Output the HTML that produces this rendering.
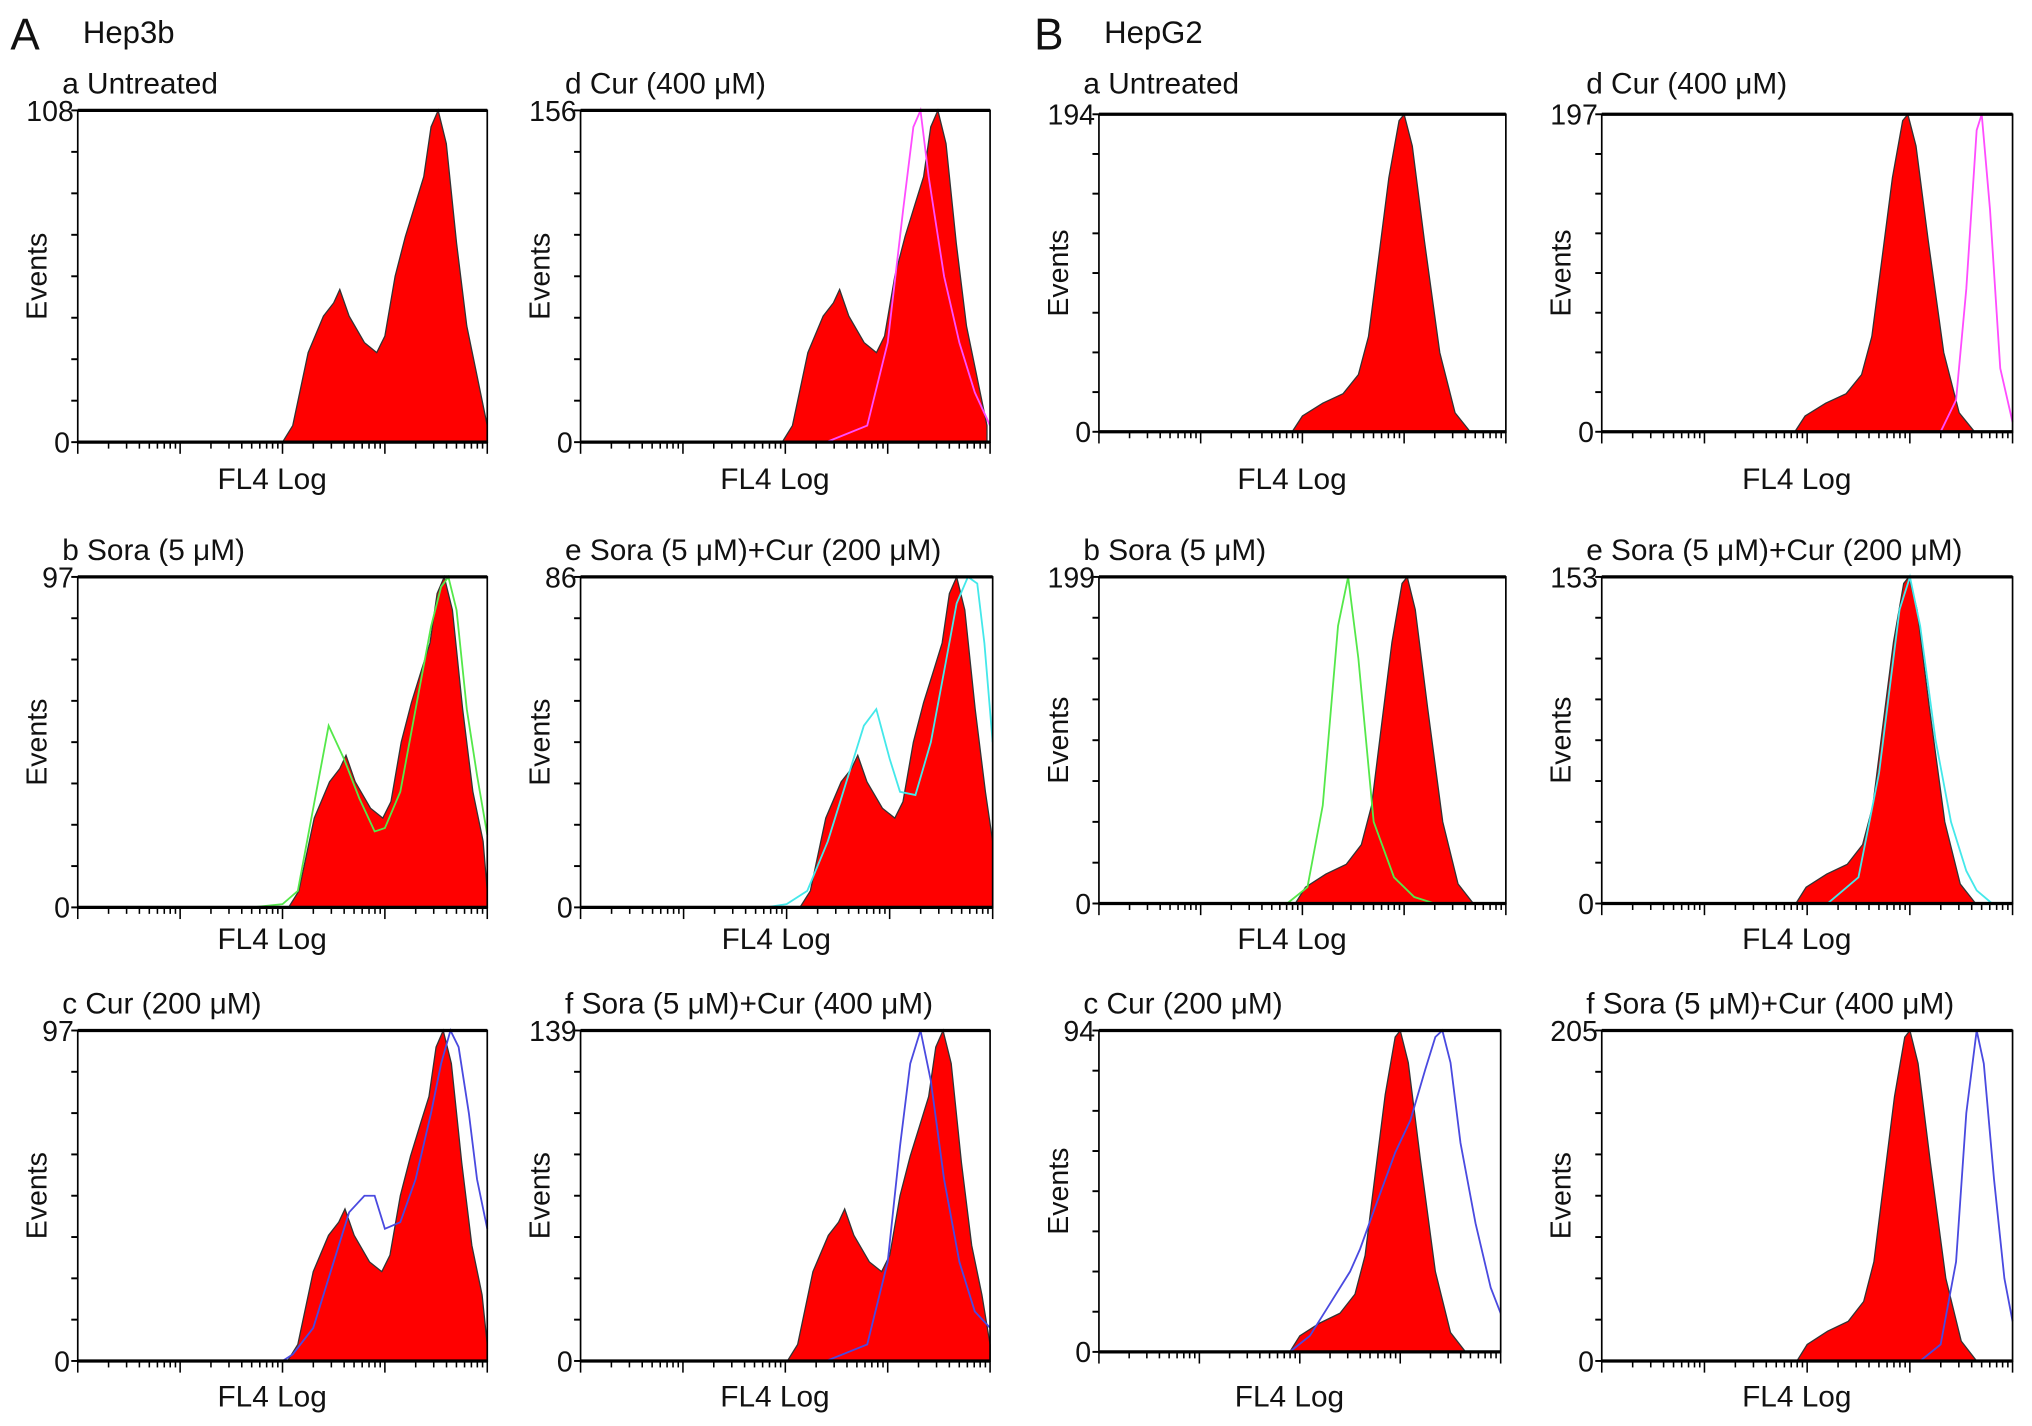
<!DOCTYPE html>
<html><head><meta charset="utf-8"><style>
html,body{margin:0;padding:0;background:#fff;}
svg{display:block;}
text{font-family:"Liberation Sans",Arial,sans-serif;fill:#111;}
</style></head><body>
<svg id="fig" width="2032" height="1426" viewBox="0 0 1568 1100" xmlns="http://www.w3.org/2000/svg">
<text x="8" y="38" font-size="34">A</text>
<text x="64" y="33" font-size="24">Hep3b</text>
<text x="798" y="38" font-size="34">B</text>
<text x="852" y="33" font-size="24">HepG2</text>
</svg>
<script>
// x values in log decades (0-4), y as fraction of panel max
const hep3bBaseX = [2.0,2.1,2.25,2.4,2.5,2.56,2.65,2.8,2.92,3.0,3.1,3.2,3.3,3.38,3.45,3.52,3.6,3.7,3.8,3.9,4.0];
const hep3bBaseY = [0,0.05,0.27,0.38,0.42,0.46,0.38,0.3,0.27,0.32,0.5,0.62,0.72,0.8,0.95,1.0,0.9,0.6,0.35,0.2,0.05];
const hepg2BaseX = [1.9,2.0,2.2,2.4,2.55,2.65,2.75,2.85,2.95,3.0,3.08,3.2,3.35,3.5,3.65];
const hepg2BaseY = [0,0.05,0.09,0.12,0.18,0.3,0.55,0.8,0.98,1.0,0.9,0.6,0.25,0.06,0];
const ovA_dX = [2.4,2.8,3.0,3.15,3.25,3.32,3.4,3.55,3.7,3.85,4.0];
const ovA_dY = [0,0.05,0.3,0.7,0.95,1.0,0.8,0.5,0.3,0.15,0.05];
const ovA_bX = [1.7,2.0,2.15,2.3,2.45,2.6,2.75,2.9,3.0,3.15,3.3,3.45,3.55,3.62,3.7,3.8,3.9,4.0];
const ovA_bY = [0,0.01,0.05,0.3,0.55,0.45,0.33,0.23,0.24,0.35,0.6,0.85,0.97,1.0,0.9,0.6,0.4,0.22];
const ovA_eX = [1.8,2.0,2.2,2.4,2.6,2.75,2.87,3.0,3.1,3.25,3.4,3.55,3.65,3.76,3.85,3.92,4.0];
const ovA_eY = [0,0.01,0.05,0.2,0.4,0.55,0.6,0.45,0.35,0.34,0.5,0.75,0.92,1.0,0.98,0.8,0.5];
const ovA_cX = [2.0,2.1,2.3,2.5,2.65,2.8,2.9,3.0,3.15,3.3,3.45,3.55,3.64,3.72,3.82,3.9,4.0];
const ovA_cY = [0,0.02,0.1,0.3,0.45,0.5,0.5,0.4,0.42,0.55,0.75,0.9,1.0,0.95,0.75,0.55,0.4];
const ovA_fX = [2.4,2.8,3.0,3.12,3.22,3.32,3.42,3.55,3.7,3.85,4.0];
const ovA_fY = [0,0.05,0.3,0.65,0.9,1.0,0.85,0.55,0.3,0.15,0.1];
const ovB_dX = [0,3.3,3.45,3.55,3.65,3.7,3.78,3.88,4.0];
const ovB_dY = [0,0,0.1,0.45,0.95,1.0,0.7,0.2,0.03];
const ovB_bX = [1.85,2.05,2.2,2.35,2.45,2.55,2.7,2.9,3.1,3.3];
const ovB_bY = [0,0.05,0.3,0.85,1.0,0.75,0.25,0.08,0.02,0];
const ovB_eX = [0,2.2,2.5,2.7,2.9,3.0,3.1,3.25,3.4,3.55,3.65,3.8];
const ovB_eY = [0,0,0.08,0.4,0.9,1.0,0.85,0.5,0.25,0.1,0.04,0];
const ovB_cX = [1.9,2.1,2.3,2.5,2.6,2.75,2.95,3.1,3.25,3.35,3.42,3.5,3.6,3.75,3.9,4.0];
const ovB_cY = [0,0.05,0.15,0.25,0.32,0.45,0.62,0.72,0.88,0.98,1.0,0.9,0.65,0.4,0.2,0.12];
const ovB_fX = [0,3.1,3.3,3.45,3.55,3.65,3.72,3.82,3.92,4.0];
const ovB_fY = [0,0,0.05,0.3,0.75,1.0,0.9,0.55,0.25,0.12];
const yMaxLabels = ["108","97","97","156","86","139","194","199","94","197","153","205"];
const panelTitles = ["a  Untreated","b Sora (5 \u03bcM)","c Cur (200 \u03bcM)","d   Cur (400 \u03bcM)","e Sora (5 \u03bcM)+Cur (200 \u03bcM)","f   Sora (5 \u03bcM)+Cur (400 \u03bcM)","a   Untreated","b Sora (5 \u03bcM)","c   Cur (200 \u03bcM)","d   Cur (400 \u03bcM)","e Sora (5 \u03bcM)+Cur (200 \u03bcM)","f   Sora (5 \u03bcM)+Cur (400 \u03bcM)"];

const NS = "http://www.w3.org/2000/svg";
const svg = document.getElementById('fig');
function mk(tag, attrs, parent){const e=document.createElementNS(NS,tag);for(const k in attrs)e.setAttribute(k,attrs[k]);(parent||svg).appendChild(e);return e;}

// layout: [left,right,top,bottom]
const boxes = [
 [60,376,85,341],[60,376,445,700],[60,376,795,1050],
 [448,764,85,341],[448,766,445,700],[448,764,795,1050],
 [848,1162,88,333],[848,1162,445,697],[848,1158,795,1043],
 [1236,1553,88,333],[1236,1553,445,697],[1236,1553,795,1050]
];
const rowTitleY = [72,432,782];
const rowAxisY = [377,732,1085];
const baseX = [hep3bBaseX,hep3bBaseX,hep3bBaseX,hep3bBaseX,hep3bBaseX,hep3bBaseX,hepg2BaseX,hepg2BaseX,hepg2BaseX,hepg2BaseX,hepg2BaseX,hepg2BaseX];
const baseY = [hep3bBaseY,hep3bBaseY,hep3bBaseY,hep3bBaseY,hep3bBaseY,hep3bBaseY,hepg2BaseY,hepg2BaseY,hepg2BaseY,hepg2BaseY,hepg2BaseY,hepg2BaseY];
const ovX = [null,ovA_bX,ovA_cX,ovA_dX,ovA_eX,ovA_fX,null,ovB_bX,ovB_cX,ovB_dX,ovB_eX,ovB_fX];
const ovY = [null,ovA_bY,ovA_cY,ovA_dY,ovA_eY,ovA_fY,null,ovB_bY,ovB_cY,ovB_dY,ovB_eY,ovB_fY];
const ovColor = [null,"#55e84a","#4a4ae0","#ff4cff","#44e8ea","#4a4ae0",null,"#55e84a","#4a4ae0","#ff4cff","#44e8ea","#4a4ae0"];
const baseShift = [0,0.06,0.05,-0.03,0.13,0.02,0,0.03,0,-0.02,-0.01,0];

boxes.forEach((b,i)=>{
  const [L,R,T,B]=b;
  const row = i%3;
  const g = mk('g',{});
  
  
  const xs = v => L + (v/4)*(R-L);
  const ys = v => B - v*(B-T);
  const t = mk('text',{x:L-12,y:rowTitleY[row],'font-size':23},g);
  t.textContent = panelTitles[i];
  
  
  let d = 'M'+xs(baseX[i][0]+baseShift[i])+','+B;
  baseX[i].forEach((x,k)=>{const xx=Math.min(4,Math.max(0,x+baseShift[i]));d+=' L'+xs(xx).toFixed(1)+','+ys(baseY[i][k]).toFixed(1);});
  d += ' L'+xs(Math.min(4,baseX[i][baseX[i].length-1]+baseShift[i]))+','+B+' Z';
  const p = mk('path',{d:d,fill:'#ff0000',stroke:'#333','stroke-width':1},g);
  
  
  if(ovX[i]){
    const pts = ovX[i].map((x,k)=>xs(x).toFixed(1)+','+ys(ovY[i][k]).toFixed(1)).join(' ');
    const pl = mk('polyline',{points:pts,fill:'none',stroke:ovColor[i],'stroke-width':1.4},g);
    
    
  }
  const r = mk('rect',{x:L,y:T,width:R-L,height:B-T,fill:'none',stroke:'#000','stroke-width':1.3},g);
  
  
  mk('line',{x1:L,y1:T,x2:R,y2:T,stroke:'#000','stroke-width':2.5},g);
  mk('line',{x1:L,y1:B,x2:R,y2:B,stroke:'#000','stroke-width':2.5},g);
  for(let k=0;k<=8;k++){const y=T+k*(B-T)/8;mk('line',{x1:L-5,y1:y,x2:L,y2:y,stroke:'#000','stroke-width':1.5},g);}
  for(let dec=0;dec<4;dec++){
    for(let m=1;m<=9;m++){
      const x = xs(dec+Math.log10(m));
      mk('line',{x1:x,y1:B,x2:x,y2:B+(m===1?9:5),stroke:'#000','stroke-width':1.2},g);
    }
  }
  mk('line',{x1:R,y1:B,x2:R,y2:B+9,stroke:'#000','stroke-width':1.2},g);
  const ym = mk('text',{x:L-3,y:T+8,'font-size':22,'text-anchor':'end'},g);
  ym.textContent = yMaxLabels[i];
  
  
  const y0 = mk('text',{x:L-6,y:B+8,'font-size':22,'text-anchor':'end'},g);
  y0.textContent = '0';
  
  
  const ev = mk('text',{x:0,y:0,'font-size':22,'text-anchor':'middle',transform:'translate('+(L-24)+','+((T+B)/2)+') rotate(-90)'},g);
  ev.textContent = 'Events';
  
  
  const xl = mk('text',{x:(L+R)/2-8,y:rowAxisY[row],'font-size':23,'text-anchor':'middle'},g);
  xl.textContent = 'FL4 Log';
  
  
});
</script>
</body></html>
